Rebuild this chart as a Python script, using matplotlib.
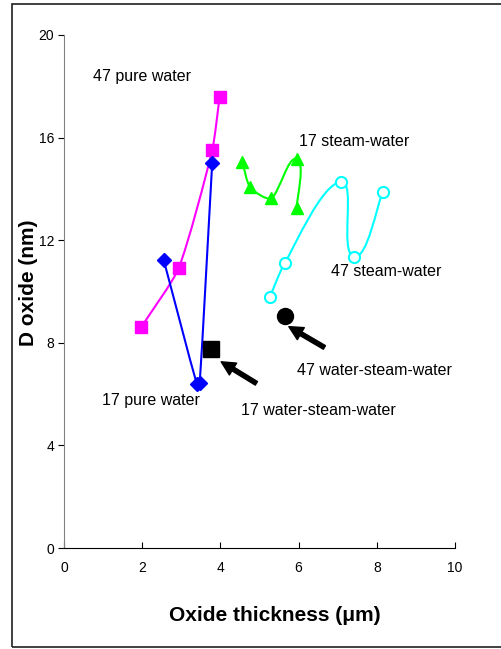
import matplotlib.pyplot as plt
import numpy as np
from matplotlib.path import Path
from matplotlib.patches import PathPatch, Rectangle

plt.rcParams['font.family'] = ['Liberation Sans', 'DejaVu Sans']

# datos
x_47_pure = [1.97, 2.93, 3.79, 3.98]
y_47_pure = [8.60, 10.90, 15.50, 17.58]

x_17_pure = [2.55, 3.40, 3.47, 3.79]
y_17_pure = [11.23, 6.38, 6.42, 15.00]

x_17_steam = [4.56, 4.76, 5.30, 5.95, 5.95]
y_17_steam = [15.06, 14.06, 13.63, 15.17, 13.24]

x_47_steam = [5.26, 5.64, 7.09, 7.41, 8.15]
y_47_steam = [9.77, 11.10, 14.28, 11.36, 13.87]

x_17_wsw, y_17_wsw = [3.75], [7.75]
x_47_wsw, y_47_wsw = [5.64], [9.04]

# etiquetas: (texto, x, y)
etiquetas = [
    ("47 pure water", 0.75, 18.22),
    ("17 pure water", 0.96, 5.58),
    ("17 water-steam-water", 4.52, 5.19),
    ("47 water-steam-water", 5.95, 6.74),
    ("17 steam-water", 6.02, 15.68),
    ("47 steam-water", 6.83, 10.62),
]

# flechas: (punta, cola)
flechas = [
    ((4.02, 7.26), (4.92, 6.42)),
    ((5.75, 8.63), (6.66, 7.82)),
]


def curva_suave(ax, xs, ys, color):
    # linea suavizada tipo Excel, calculada en pixeles para no deformar
    tr = ax.transData
    pts = tr.transform(np.column_stack([xs, ys]))
    n = len(pts)
    verts = [pts[0]]
    codes = [Path.MOVETO]

    def tangente(i):
        a = pts[max(i - 1, 0)]
        b = pts[min(i + 1, n - 1)]
        v = b - a
        return v / (np.linalg.norm(v) + 1e-9)

    for i in range(n - 1):
        p1, p2 = pts[i], pts[i + 1]
        d = np.linalg.norm(p2 - p1)
        c1 = p1 + tangente(i) * d / 5.0
        c2 = p2 - tangente(i + 1) * d / 5.0
        verts += [c1, c2, p2]
        codes += [Path.CURVE4] * 3
    verts = tr.inverted().transform(np.array(verts))
    ax.add_patch(PathPatch(Path(verts, codes), facecolor='none',
                           edgecolor=color, lw=1.5, zorder=2))


fig = plt.figure(figsize=(5.02, 6.49), dpi=100)
ax = fig.add_axes([64 / 502, 1 - 548 / 649, 391 / 502, 513 / 649])
ax.set_xlim(0, 10)
ax.set_ylim(0, 20)

curva_suave(ax, x_47_pure, y_47_pure, '#FF00FF')
ax.plot(x_47_pure, y_47_pure, 's', color='#FF00FF', ms=8.5, mec='#FF00FF', zorder=3)

curva_suave(ax, x_17_pure, y_17_pure, '#0000FF')
ax.plot(x_17_pure, y_17_pure, 'D', color='#0000FF', ms=7, zorder=3)

curva_suave(ax, x_17_steam, y_17_steam, '#00FF00')
ax.plot(x_17_steam, y_17_steam, '^', color='#00FF00', ms=9, zorder=3)

curva_suave(ax, x_47_steam, y_47_steam, '#00FFFF')
ax.plot(x_47_steam, y_47_steam, 'o', mfc='white', mec='#00FFFF', mew=1.5, ms=8, zorder=3)

ax.plot(x_17_wsw, y_17_wsw, 's', color='black', ms=11, zorder=3)
ax.plot(x_47_wsw, y_47_wsw, 'o', color='black', ms=11.5, zorder=3)

for texto, tx, ty in etiquetas:
    ax.text(tx, ty, texto, fontsize=11.5, ha='left', va='baseline')

for punta, cola in flechas:
    ax.annotate('', xy=punta, xytext=cola,
                arrowprops=dict(width=3, headwidth=10, headlength=10,
                                color='black', shrink=0))

ax.set_xticks([0, 2, 4, 6, 8, 10])
ax.set_yticks([0, 4, 8, 12, 16, 20])
ax.tick_params(axis='x', direction='in', length=4, labelsize=10, pad=9)
ax.tick_params(axis='y', direction='out', length=4, labelsize=10, pad=3)
ax.spines['top'].set_visible(False)
ax.spines['right'].set_visible(False)
ax.spines['left'].set_color('#808080')
ax.spines['bottom'].set_color('black')

ax.set_xlabel('Oxide thickness (\u03bcm)', fontsize=15, fontweight='bold')
ax.xaxis.set_label_coords((275 - 64) / 391, (548 - 606) / 513)
ax.set_ylabel('D oxide (nm)', fontsize=15, fontweight='bold', va='center')
ax.yaxis.set_label_coords((29 - 64) / 391, (548 - 283) / 513)

# marco exterior
fig.patches.append(Rectangle((12 / 502, 1 - 647 / 649), 1.0, 643 / 649,
                             transform=fig.transFigure, fill=False,
                             edgecolor='#202020', lw=1.2))

fig.savefig('out.png', dpi=100)
